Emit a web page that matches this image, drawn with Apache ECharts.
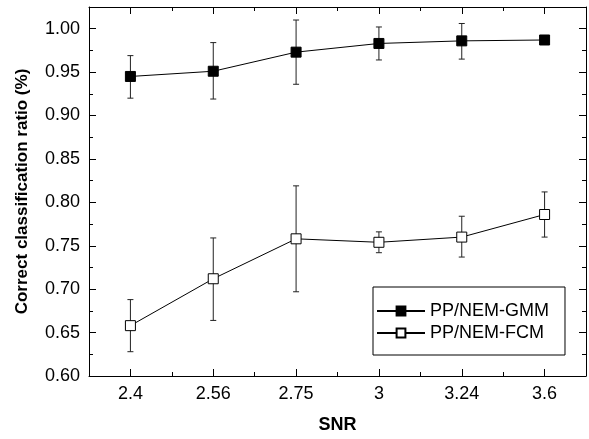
<!DOCTYPE html>
<html>
<head>
<meta charset="utf-8">
<script src="https://cdn.jsdelivr.net/npm/echarts@6/dist/echarts.min.js"></script>
<style>
html,body{margin:0;padding:0;background:#fff;}
#chart{width:589px;height:439px;}
</style>
</head>
<body>
<div id="chart"></div>
<script>
var categories = ['2.4', '2.56', '2.75', '3', '3.24', '3.6'];
var gmmMean = [0.945, 0.951, 0.973, 0.983, 0.986, 0.987];
var gmmLow  = [0.920, 0.919, 0.936, 0.964, 0.965, 0.985];
var gmmHigh = [0.969, 0.984, 1.010, 1.002, 1.006, 0.989];
var fcmMean = [0.658, 0.712, 0.758, 0.754, 0.760, 0.786];
var fcmLow  = [0.628, 0.664, 0.697, 0.742, 0.737, 0.760];
var fcmHigh = [0.688, 0.759, 0.819, 0.766, 0.784, 0.812];
var yMin = 0.60, yMax = 1.025, yStep = 0.05;
var seriesNames = ['PP/NEM-GMM', 'PP/NEM-FCM'];
var xTitle = 'SNR';
var yTitle = 'Correct classification ratio (%)';

var FONT = 'Liberation Sans, Arial, sans-serif';

function errData(low, high) {
  return low.map(function (l, i) { return [i, l, high[i]]; });
}
function renderErr(params, api) {
  var x = api.value(0);
  var p1 = api.coord([x, api.value(1)]);
  var p2 = api.coord([x, api.value(2)]);
  var cap = 3;
  var st = { stroke: '#222', lineWidth: 1, fill: null };
  return {
    type: 'group',
    children: [
      { type: 'line', shape: { x1: p1[0], y1: p1[1], x2: p2[0], y2: p2[1] }, style: st },
      { type: 'line', shape: { x1: p1[0] - cap, y1: p1[1], x2: p1[0] + cap, y2: p1[1] }, style: st },
      { type: 'line', shape: { x1: p2[0] - cap, y1: p2[1], x2: p2[0] + cap, y2: p2[1] }, style: st }
    ]
  };
}

var axisLine = { show: true, lineStyle: { color: '#000', width: 1 } };

function catAxis(pos, major, showLabel) {
  return {
    type: 'category',
    data: categories,
    position: pos,
    boundaryGap: true,
    axisLine: major ? axisLine : { show: false },
    axisTick: {
      show: true, inside: true, alignWithLabel: major,
      length: major ? 7 : 4,
      lineStyle: { color: '#000', width: 1 }
    },
    axisLabel: showLabel ? { show: true, color: '#000', fontSize: 18, fontFamily: FONT, margin: 9 } : { show: false },
    splitLine: { show: false },
    name: showLabel ? xTitle : '',
    nameLocation: 'middle',
    nameGap: 40,
    nameTextStyle: { color: '#000', fontSize: 18, fontWeight: 'bold', fontFamily: FONT }
  };
}

function valAxis(pos, showLabel) {
  return {
    type: 'value',
    position: pos,
    min: yMin, max: yMax, interval: yStep,
    axisLine: axisLine,
    axisTick: { show: true, inside: true, length: 7, lineStyle: { color: '#000', width: 1 } },
    minorTick: { show: true, splitNumber: 2, length: 4, lineStyle: { color: '#000', width: 1 } },
    axisLabel: showLabel ? {
      show: true, color: '#000', fontSize: 18, fontFamily: FONT, margin: 9,
      formatter: function (v) { return v > 1.001 ? '' : v.toFixed(2); }
    } : { show: false },
    splitLine: { show: false },
    name: showLabel ? yTitle : '',
    nameLocation: 'middle',
    nameGap: 58,
    nameTextStyle: { color: '#000', fontSize: 17, fontWeight: 'bold', fontFamily: FONT }
  };
}

var chart = echarts.init(document.getElementById('chart'), null, { renderer: 'canvas' });
chart.setOption({
  animation: false,
  backgroundColor: '#fff',
  grid: { left: 89, right: 3, top: 7, bottom: 61, containLabel: false },
  xAxis: [
    catAxis('bottom', true, true),
    catAxis('top', true, false),
    catAxis('bottom', false, false),
    catAxis('top', false, false)
  ],
  yAxis: [valAxis('left', true), valAxis('right', false)],
  legend: {
    data: seriesNames,
    orient: 'vertical',
    left: 373, top: 287,
    width: 183,
    padding: [15, 16, 13, 3],
    itemWidth: 48, itemHeight: 11, itemGap: 4,
    borderColor: '#000', borderWidth: 1,
    selectedMode: false,
    textStyle: { color: '#000', fontSize: 18, fontFamily: FONT }
  },
  series: [
    {
      type: 'custom', name: 'gmmErr', xAxisIndex: 0, yAxisIndex: 0,
      renderItem: renderErr, data: errData(gmmLow, gmmHigh), z: 1, silent: true
    },
    {
      type: 'custom', name: 'fcmErr', xAxisIndex: 0, yAxisIndex: 0,
      renderItem: renderErr, data: errData(fcmLow, fcmHigh), z: 1, silent: true
    },
    {
      type: 'line', name: seriesNames[0], data: gmmMean,
      symbol: 'rect', symbolSize: 10, z: 3,
      lineStyle: { color: '#000', width: 1 },
      itemStyle: { color: '#000', borderColor: '#000', borderWidth: 1 }
    },
    {
      type: 'line', name: seriesNames[1], data: fcmMean,
      symbol: 'rect', symbolSize: 10, z: 3,
      lineStyle: { color: '#000', width: 1 },
      itemStyle: { color: '#fff', borderColor: '#000', borderWidth: 1 }
    }
  ]
});
</script>
</body>
</html>
